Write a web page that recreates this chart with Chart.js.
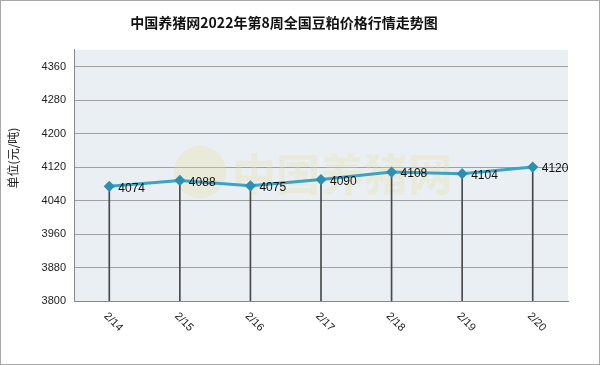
<!DOCTYPE html>
<html><head><meta charset="utf-8">
<script src="https://cdn.jsdelivr.net/npm/chart.js@4/dist/chart.umd.min.js"></script>
<style>html,body{margin:0;padding:0;background:#fff}#wrap{width:600px;height:365px}</style>
</head><body><div id="wrap"><canvas id="c"></canvas></div>
<script>
const categories = ['2/14','2/15','2/16','2/17','2/18','2/19','2/20'];
const prices = [4074, 4088, 4075, 4090, 4108, 4104, 4120];
const yTicks = [3800, 3880, 3960, 4040, 4120, 4200, 4280, 4360];
const titleText = '中国养猪网2022年第8周全国豆粕价格行情走势图';
const yTitle = '单位(元/吨)';
const watermark = '中国养猪网';
const yMin = 3800, yMax = 4400, yStep = 80;

const decor = {
  id: 'decor',
  beforeDraw(chart) {
    const {ctx, chartArea: a} = chart;
    ctx.save();
    ctx.fillStyle = '#fff';
    ctx.fillRect(0, 0, chart.width, chart.height);
    ctx.fillStyle = '#E9EFF3';
    ctx.fillRect(a.left, a.top, a.right - a.left, a.bottom - a.top);
    ctx.restore();
  },
  beforeDatasetsDraw(chart) {
    const {ctx, chartArea: a} = chart;
    ctx.save();
    ctx.globalAlpha = 0.3;
    ctx.fillStyle = '#EBDDA0';
    ctx.beginPath();
    ctx.arc(200, 172, 26, 0, Math.PI * 2);
    ctx.fill();
    ctx.font = 'bold 44px "Noto Sans CJK SC"';
    ctx.textAlign = 'left';
    ctx.textBaseline = 'middle';
    ctx.fillText(watermark, 232, 174);
    ctx.restore();
  },
  afterDraw(chart) {
    const {ctx, chartArea: a} = chart;
    const xs = chart.scales.x;
    ctx.save();
    ctx.fillStyle = '#222';
    ctx.font = '11px "Liberation Sans"';
    ctx.textAlign = 'center';
    ctx.textBaseline = 'middle';
    categories.forEach((c, i) => {
      const x = xs.getPixelForValue(i);
      ctx.save();
      ctx.translate(x + 4, a.bottom + 21);
      ctx.rotate(Math.PI / 4);
      ctx.fillText(c, 0, 0);
      ctx.restore();
    });
    ctx.font = '12px "Liberation Sans"';
    ctx.textAlign = 'left';
    ctx.fillStyle = '#111';
    const meta = chart.getDatasetMeta(1);
    meta.data.forEach((pt, i) => {
      ctx.fillText(String(prices[i]), pt.x + 9, pt.y + 2);
    });
    ctx.save();
    ctx.translate(13, 158);
    ctx.rotate(-Math.PI / 2);
    ctx.textAlign = 'center';
    ctx.font = '12px "Noto Sans CJK SC"';
    ctx.fillStyle = '#222';
    ctx.fillText(yTitle, 0, 0);
    ctx.restore();
    ctx.strokeStyle = '#A8A8A8';
    ctx.lineWidth = 1;
    ctx.strokeRect(0.5, 0.5, chart.width - 1, chart.height - 1);
    ctx.restore();
  }
};

new Chart(document.getElementById('c'), {
  data: {
    labels: categories,
    datasets: [
      {
        type: 'bar',
        data: prices.map(v => [yMin, v]),
        backgroundColor: '#4A4A4A',
        barThickness: 1,
        order: 2
      },
      {
        type: 'line',
        data: prices,
        borderColor: '#3CA3C3',
        borderWidth: 3,
        pointStyle: 'rectRot',
        pointRadius: 3.5,
        pointBackgroundColor: '#2D90B2',
        pointBorderColor: '#2D90B2',
        tension: 0,
        order: 1
      }
    ]
  },
  options: {
    responsive: true,
    maintainAspectRatio: false,
    animation: false,
    layout: {padding: {left: 0, right: 32, bottom: 56, top: 0}},
    plugins: {
      legend: {display: false},
      tooltip: {enabled: false},
      title: {
        display: true,
        text: titleText,
        color: '#111',
        font: {family: '"Noto Sans CJK SC"', size: 14, weight: 'bold'},
        padding: {top: 14, bottom: 19}
      }
    },
    scales: {
      x: {
        offset: true,
        grid: {display: false, offset: true},
        border: {color: '#888'},
        ticks: {display: false}
      },
      y: {
        min: yMin, max: yMax,
        afterFit(s) { s.width = 74; },
        afterBuildTicks(s) { s.ticks = yTicks.concat([yMax]).map(v => ({value: v})); },
        grid: {
          drawTicks: false,
          color: ctx => (ctx.tick && ctx.tick.value === yMax) ? 'rgba(0,0,0,0)' : '#A0A0A0',
          lineWidth: 1
        },
        border: {color: '#888'},
        ticks: {
          padding: 8,
          color: '#222',
          font: {family: '"Liberation Sans"', size: 11},
          callback: v => v === yMax ? '' : v
        }
      }
    }
  },
  plugins: [decor]
});
</script>
</body></html>
